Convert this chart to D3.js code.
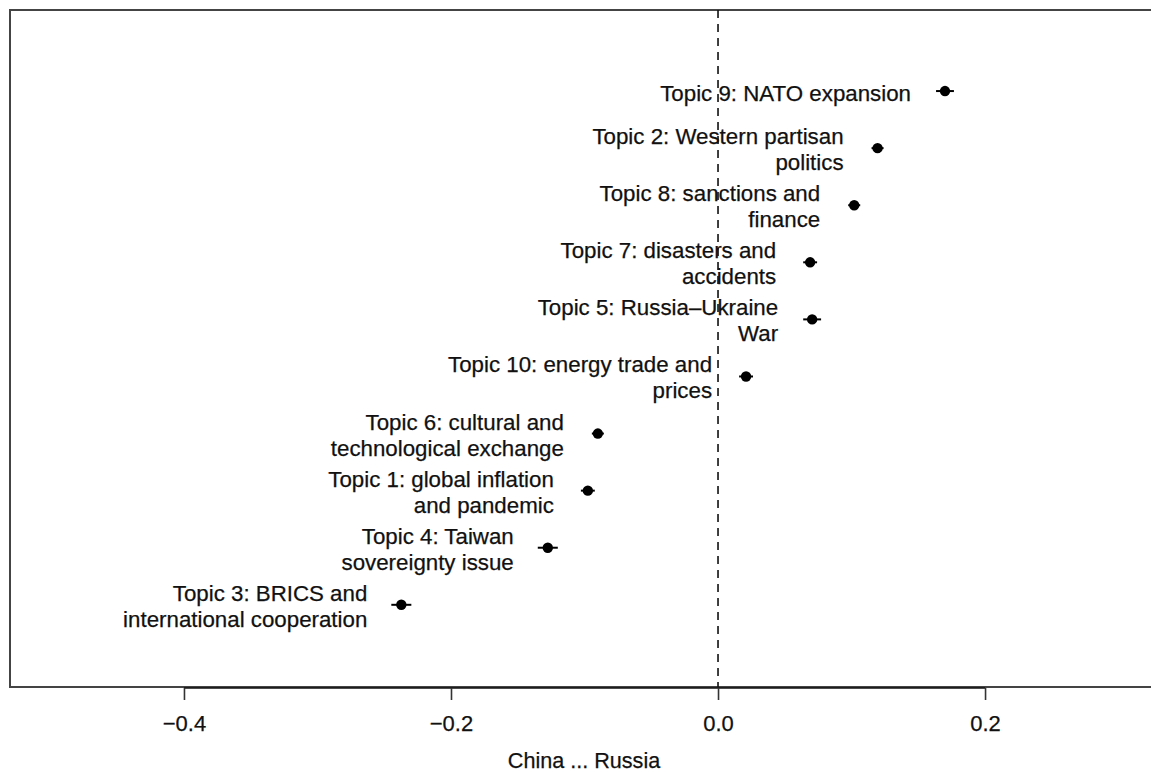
<!DOCTYPE html>
<html>
<head>
<meta charset="utf-8">
<script src="https://cdn.jsdelivr.net/npm/d3@7"></script>
<style>
  html, body { margin: 0; padding: 0; background: #fff; overflow: hidden; }
  text { font-family: "Liberation Sans", Arial, Helvetica, sans-serif; fill: #111; stroke: #111; stroke-width: 0.25px; }
</style>
</head>
<body>
<svg id="chart" width="1151" height="772"></svg>
<script>
// ---- data ----
const topics = [
  "Topic 9: NATO expansion",
  "Topic 2: Western partisan\npolitics",
  "Topic 8: sanctions and\nfinance",
  "Topic 7: disasters and\naccidents",
  "Topic 5: Russia–Ukraine\nWar",
  "Topic 10: energy trade and\nprices",
  "Topic 6: cultural and\ntechnological exchange",
  "Topic 1: global inflation\nand pandemic",
  "Topic 4: Taiwan\nsovereignty issue",
  "Topic 3: BRICS and\ninternational cooperation"
];
const estimates = [0.170, 0.1195, 0.102, 0.069, 0.0705, 0.021, -0.090, -0.0975, -0.1275, -0.2372];
const ciLower   = [0.1633, 0.1150, 0.0975, 0.0638, 0.0638, 0.0158, -0.0945, -0.1027, -0.1350, -0.2447];
const ciUpper   = [0.1767, 0.1240, 0.1065, 0.0742, 0.0772, 0.0262, -0.0855, -0.0923, -0.1200, -0.2297];
const xTicks = [-0.4, -0.2, 0.0, 0.2];
const xTickLabels = ["\u22120.4", "\u22120.2", "0.0", "0.2"];
const xAxisTitle = "China ... Russia";

// ---- layout ----
const svg = d3.select("#chart");
const mLeft = 10, mRight = 1151, mTop = 10, mBottom = 687;
const x = d3.scaleLinear().domain([-0.5303, 0.3243]).range([mLeft, mRight]);
const y = d3.scaleLinear().domain([-0.44, 11.42]).range([mBottom, mTop]);
const rows = topics.map((t, i) => ({ label: t, est: estimates[i], lo: ciLower[i], hi: ciUpper[i], pos: 10 - i }));

// box
svg.append("rect")
  .attr("x", mLeft).attr("y", mTop)
  .attr("width", mRight - mLeft + 10).attr("height", mBottom - mTop)
  .attr("fill", "none").attr("stroke", "#444").attr("stroke-width", 2);

// zero reference line
svg.append("line")
  .attr("x1", x(0)).attr("x2", x(0))
  .attr("y1", mTop).attr("y2", mBottom)
  .attr("stroke", "#111").attr("stroke-width", 1.6)
  .attr("stroke-dasharray", "8,6");

// x axis
const axis = d3.axisBottom(x).tickValues(xTicks)
  .tickFormat((d, i) => xTickLabels[i]).tickSize(12).tickPadding(15);
const gAxis = svg.append("g").attr("transform", `translate(0,${mBottom + 1})`).call(axis);
gAxis.select(".domain").attr("stroke", "#111").attr("stroke-width", 1.6)
  .attr("d", `M${x(xTicks[0])},0H${x(xTicks[xTicks.length - 1])}`);
gAxis.selectAll(".tick line").attr("stroke", "#333").attr("stroke-width", 1.6);
gAxis.selectAll(".tick text")
  .style("font-family", '"Liberation Sans", Arial, sans-serif')
  .style("font-size", "22px").attr("fill", "#111");

// axis title
svg.append("text")
  .attr("x", 584).attr("y", 768)
  .attr("text-anchor", "middle")
  .style("font-size", "21.6px")
  .text(xAxisTitle);

// error bars
svg.append("g").selectAll("line").data(rows).join("line")
  .attr("x1", d => x(d.lo)).attr("x2", d => x(d.hi))
  .attr("y1", d => y(d.pos)).attr("y2", d => y(d.pos))
  .attr("stroke", "#000").attr("stroke-width", 2);

// points
svg.append("g").selectAll("circle").data(rows).join("circle")
  .attr("cx", d => x(d.est)).attr("cy", d => y(d.pos))
  .attr("r", 5.2).attr("fill", "#000");

// labels
const lg = svg.append("g");
rows.forEach(d => {
  const lines = d.label.split("\n");
  const t = lg.append("text")
    .attr("text-anchor", "end")
    .style("font-size", "22.3px");
  const cx = x(d.est) - 34;
  const cy = y(d.pos);
  if (lines.length === 1) {
    t.append("tspan").attr("x", cx).attr("y", cy + 10).text(lines[0]);
  } else {
    t.append("tspan").attr("x", cx).attr("y", cy - 4).text(lines[0]);
    t.append("tspan").attr("x", cx).attr("y", cy + 22).text(lines[1]);
  }
});
</script>
</body>
</html>
